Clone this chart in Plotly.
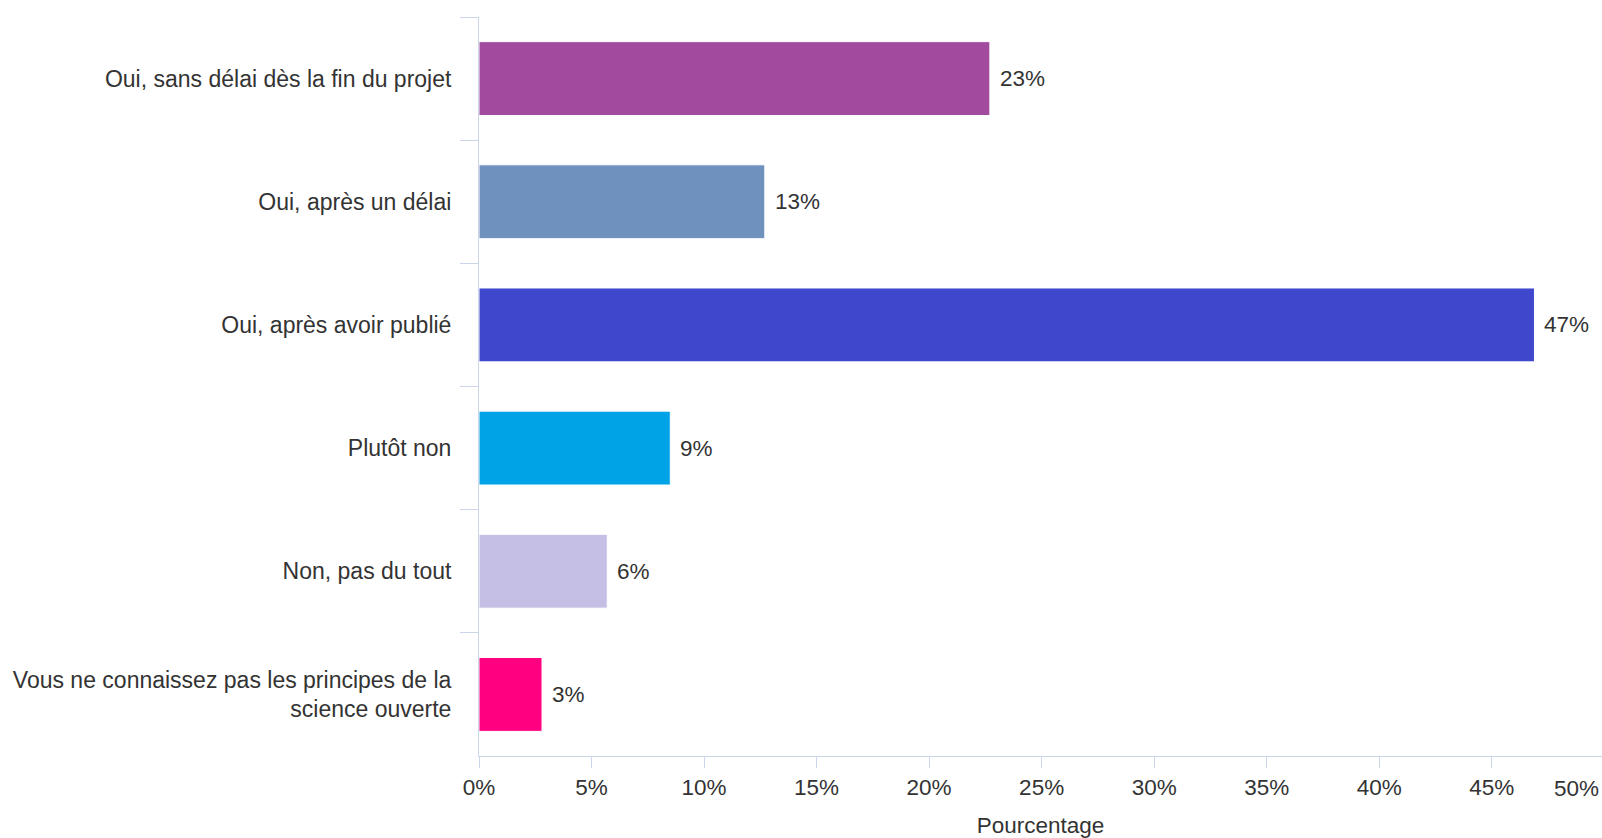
import plotly.graph_objects as go

# Survey answers and their share of respondents (%)
categories = [
    "Oui, sans délai dès la fin du projet",
    "Oui, après un délai",
    "Oui, après avoir publié",
    "Plutôt non",
    "Non, pas du tout",
    "Vous ne connaissez pas les principes de la<br>science ouverte",
]
values = [22.7, 12.7, 46.9, 8.5, 5.7, 2.8]
bar_colors = ["#A24A9E", "#6F91BE", "#3F48CC", "#00A3E6", "#C5BEE5", "#FF0080"]

x_ticks = [0, 5, 10, 15, 20, 25, 30, 35, 40, 45, 50]
x_tick_text = [f"{t}%" for t in x_ticks]

FONT = "Liberation Sans, Arial, sans-serif"
TEXT = "#333333"
AXIS = "#CCD6EB"
NUM_SIZE = 22.5
CAT_SIZE = 23

labels = [f"{int(v + 0.5)}%" for v in values]

fig = go.Figure(
    go.Bar(
        x=values,
        y=categories,
        orientation="h",
        marker=dict(color=bar_colors, line=dict(color="white", width=1)),
        width=0.6,
        hoverinfo="skip",
    )
)

# value labels beside each bar
for v, c, lab in zip(values, categories, labels):
    fig.add_annotation(
        x=v, y=c, text=lab, showarrow=False, xanchor="left", yanchor="middle",
        xshift=8, font=dict(family=FONT, size=NUM_SIZE, color=TEXT),
    )

# last tick label kept inside the page edge
shown_text = x_tick_text[:-1] + [""]
fig.add_annotation(
    x=1, y=0, xref="paper", yref="paper", text=x_tick_text[-1],
    showarrow=False, xanchor="right", yanchor="top", yshift=-18, xshift=-1,
    font=dict(family=FONT, size=NUM_SIZE, color=TEXT),
)

fig.update_layout(
    width=1602,
    height=838,
    margin=dict(l=479, r=0, t=17, b=82),
    paper_bgcolor="white",
    plot_bgcolor="white",
    showlegend=False,
    font=dict(family=FONT, size=NUM_SIZE, color=TEXT),
    xaxis=dict(
        range=[0, 49.9],
        tickvals=x_ticks,
        ticktext=shown_text,
        showgrid=False,
        zeroline=False,
        showline=True,
        linecolor=AXIS,
        linewidth=1,
        ticks="outside",
        ticklen=11,
        tickcolor=AXIS,
        tickfont=dict(family=FONT, size=NUM_SIZE, color=TEXT),
        title=dict(text="Pourcentage", font=dict(family=FONT, size=NUM_SIZE, color=TEXT), standoff=18),
        fixedrange=True,
    ),
    yaxis=dict(
        categoryorder="array",
        categoryarray=categories,
        autorange="reversed",
        showgrid=False,
        zeroline=False,
        showline=True,
        linecolor=AXIS,
        linewidth=1,
        ticks="outside",
        tickson="boundaries",
        ticklen=18,
        tickcolor=AXIS,
        tickfont=dict(family=FONT, size=CAT_SIZE, color=TEXT),
        ticklabelstandoff=22,
        fixedrange=True,
    ),
)

fig.write_html("out.html")
